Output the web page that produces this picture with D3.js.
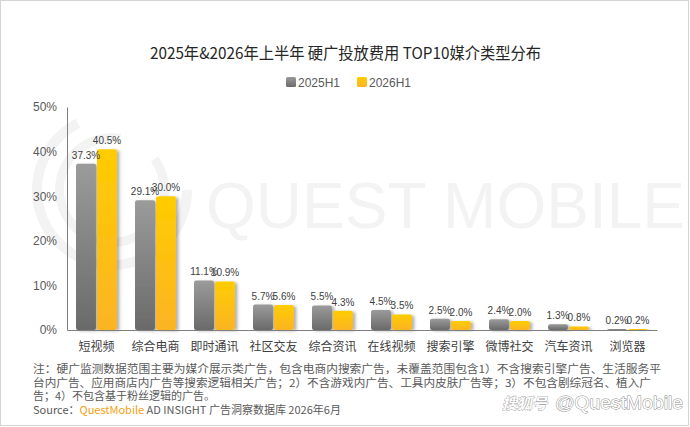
<!DOCTYPE html>
<html>
<head>
<meta charset="utf-8">
<script src="https://cdn.jsdelivr.net/npm/d3@7"></script>
<style>
  html, body { margin: 0; padding: 0; background: #fff; }
  svg { display: block; }
  text { font-family: "Liberation Sans", "Noto Sans CJK SC", sans-serif; }
  .cjk { font-family: "Noto Sans CJK SC", "Liberation Sans", sans-serif; }
</style>
</head>
<body>
<svg id="chart" width="690" height="427"></svg>
<script>
var categories = ['短视频', '综合电商', '即时通讯', '社区交友', '综合资讯', '在线视频', '搜索引擎', '微博社交', '汽车资讯', '浏览器'];
var seriesNames = ['2025H1', '2026H1'];
var values2025 = [37.3, 29.1, 11.1, 5.7, 5.5, 4.5, 2.5, 2.4, 1.3, 0.2];
var values2026 = [40.5, 30.0, 10.9, 5.6, 4.3, 3.5, 2.0, 2.0, 0.8, 0.2];
var yTicks = [0, 10, 20, 30, 40, 50];
var noteLines = [
  '注：硬广监测数据范围主要为媒介展示类广告，包含电商内搜索广告，未覆盖范围包含1）不含搜索引擎广告、生活服务平',
  '台内广告、应用商店内广告等搜索逻辑相关广告；2）不含游戏内广告、工具内皮肤广告等；3）不包含剧综冠名、植入广',
  '告；4）不包含基于粉丝逻辑的广告。'
];

var svg = d3.select('#chart');
var defs = svg.append('defs');

// gradients for the two series
var grads = [['g2025', '#9b9b9b', '#6a6a6a'], ['g2026', '#ffcc00', '#fbb424']];
grads.forEach(function(g){
  var lg = defs.append('linearGradient').attr('id', g[0])
    .attr('x1', 0).attr('y1', 0).attr('x2', 0).attr('y2', 1);
  lg.append('stop').attr('offset', '0%').attr('stop-color', g[1]);
  lg.append('stop').attr('offset', '100%').attr('stop-color', g[2]);
});
var f = defs.append('filter').attr('id', 'shadow')
  .attr('x', '-30%').attr('y', '-10%').attr('width', '170%').attr('height', '130%');
f.append('feDropShadow').attr('dx', 2.5).attr('dy', 1).attr('stdDeviation', 1.4)
  .attr('flood-color', '#000').attr('flood-opacity', 0.3);

// frame
svg.append('rect').attr('x', 0.5).attr('y', 0.5).attr('width', 688).attr('height', 425)
  .attr('fill', '#fff').attr('stroke', '#d4d4d4');

// background watermark
var wm = svg.append('g').attr('class', 'watermark');
[[80, 10, -0.15, 1.5], [57, 9, 0.05, 1.7]].forEach(function(r){
  var arc = d3.arc().innerRadius(r[0] - r[1]).outerRadius(r[0])
    .startAngle(Math.PI * r[2]).endAngle(-Math.PI * r[3]);
  wm.append('path').attr('d', arc()).attr('transform', 'translate(112,190)')
    .attr('fill', '#f3f3f3');
});
wm.append('text').attr('x', 206).attr('y', 228).text('QUEST MOBILE')
  .attr('font-size', 64).attr('fill', '#f3f3f3');

// title
svg.append('text').attr('class', 'cjk').attr('x', 150).attr('y', 59)
  .attr('font-size', 16).attr('fill', '#262626')
  .attr('textLength', 391).attr('lengthAdjust', 'spacingAndGlyphs')
  .text('2025年&2026年上半年 硬广投放费用 TOP10媒介类型分布');

// legend
var legend = svg.append('g');
var legX = [286, 357];
seriesNames.forEach(function(s, i){
  legend.append('rect').attr('x', legX[i]).attr('y', 77).attr('width', 10).attr('height', 10)
    .attr('rx', 1.5).attr('fill', 'url(#' + grads[i][0] + ')');
  legend.append('text').attr('x', legX[i] + 12).attr('y', 86.5).attr('font-size', 12)
    .attr('fill', '#595959').text(s);
});

// scales
var x0 = d3.scaleBand().domain(categories).range([67, 657]).paddingInner(0.27).paddingOuter(0.135);
var x1 = d3.scaleBand().domain(seriesNames).range([0, x0.bandwidth()]).padding(0.05);
var y = d3.scaleLinear().domain([0, 50]).range([330, 107]);

var data = categories.map(function(c, i){
  return { cat: c, vals: [values2025[i], values2026[i]] };
});

// y axis
var yAxis = svg.append('g').attr('transform', 'translate(67,0)')
  .call(d3.axisLeft(y).tickValues(yTicks).tickSize(0).tickPadding(10)
    .tickFormat(function(d){ return d + '%'; }));
yAxis.select('.domain').attr('stroke', '#7f7f7f');
yAxis.selectAll('text').attr('font-size', 12).attr('fill', '#595959')
  .attr('font-family', '"Liberation Sans", sans-serif');

// bars
var groups = svg.selectAll('g.cat').data(data).enter().append('g').attr('class', 'cat')
  .attr('transform', function(d){ return 'translate(' + x0(d.cat) + ',0)'; });

groups.selectAll('rect').data(function(d){
  return d.vals.map(function(v, i){ return { s: seriesNames[i], v: v, i: i }; });
}).enter().append('rect')
  .attr('x', function(d){ return x1(d.s); })
  .attr('y', function(d){ return y(d.v); })
  .attr('width', x1.bandwidth())
  .attr('height', function(d){ return 330 - y(d.v); })
  .attr('rx', 2)
  .attr('fill', function(d){ return 'url(#' + grads[d.i][0] + ')'; })
  .attr('filter', 'url(#shadow)');

groups.selectAll('text.val').data(function(d){
  return d.vals.map(function(v, i){ return { s: seriesNames[i], v: v }; });
}).enter().append('text').attr('class', 'val')
  .attr('x', function(d){ return x1(d.s) + x1.bandwidth() / 2; })
  .attr('y', function(d){ return y(d.v) - 5; })
  .attr('text-anchor', 'middle').attr('font-size', 10).attr('fill', '#404040')
  .text(function(d){ return d.v.toFixed(1) + '%'; });

// x axis
var xAxis = svg.append('g').attr('transform', 'translate(0,330)')
  .call(d3.axisBottom(x0).tickSize(0).tickPadding(12));
xAxis.select('.domain').attr('stroke', '#7f7f7f');
xAxis.selectAll('text').attr('font-size', 12).attr('fill', '#404040')
  .attr('font-family', '"Noto Sans CJK SC", sans-serif');

// footnote
var noteWidths = [628, 618, null];
var noteY = [373, 386.5, 400];
noteLines.forEach(function(t, i){
  var nt = svg.append('text').attr('class', 'cjk').attr('x', 33).attr('y', noteY[i])
    .attr('font-size', 11).attr('fill', '#595959').text(t);
  if (noteWidths[i]) nt.attr('textLength', noteWidths[i]).attr('lengthAdjust', 'spacingAndGlyphs');
});
var src = svg.append('text').attr('class', 'cjk').attr('x', 33).attr('y', 414)
  .attr('font-size', 11).attr('fill', '#595959');
src.append('tspan').text('Source：');
src.append('tspan').attr('fill', '#f5a012').text('QuestMobile');
src.append('tspan').text(' AD INSIGHT 广告洞察数据库 2026年6月');

// platform watermark
svg.append('text').attr('class', 'cjk').attr('x', 502).attr('y', 409)
  .attr('font-size', 15).attr('fill', '#fff').attr('stroke', '#999').attr('stroke-width', 0.8)
  .attr('paint-order', 'stroke').attr('font-style', 'italic').attr('font-weight', 'bold')
  .text('搜狐号');
svg.append('text').attr('x', 555).attr('y', 409)
  .attr('font-size', 18).attr('fill', '#fff').attr('stroke', '#8a8a8a').attr('stroke-width', 0.9)
  .attr('paint-order', 'stroke').attr('textLength', 128).attr('lengthAdjust', 'spacingAndGlyphs')
  .text('@QuestMobile');
</script>
</body>
</html>
